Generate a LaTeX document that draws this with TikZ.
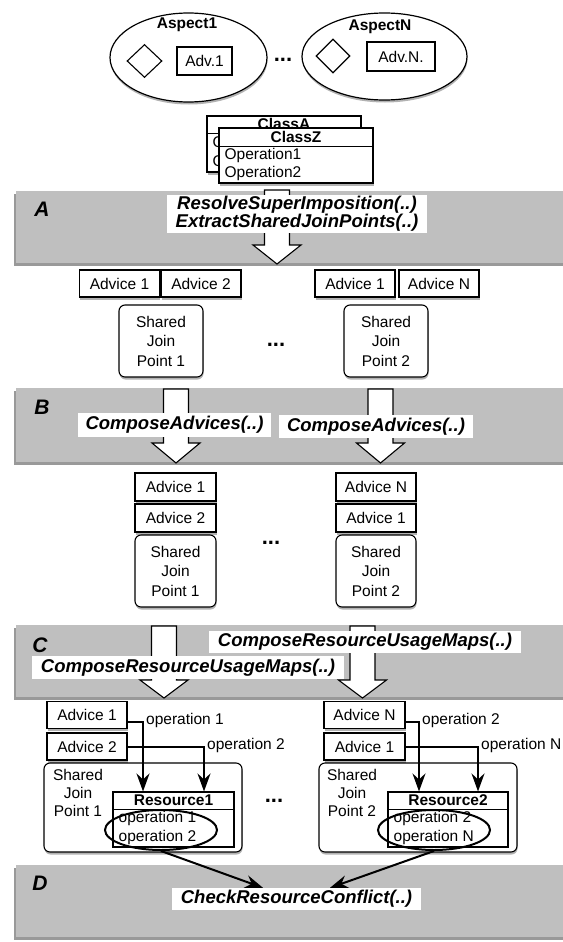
\documentclass[tikz,border=0pt]{standalone}
\usepackage{fontspec}
\setmainfont{Liberation Sans}
\usetikzlibrary{shapes.geometric,shadows,arrows.meta}
\newcommand\blockarr[4]{%
  \draw[barrow] ({#1-12.5},#2) -- ({#1+12.5},#2) -- ({#1+12.5},#3) -- ({#1+24},#3) -- (#1,#4) -- ({#1-24},#3) -- ({#1-12.5},#3) -- cycle;}
\begin{document}
\begin{tikzpicture}[x=1pt,y=-1pt,
  every node/.style={font=\fontsize{15.5}{19.5}\selectfont, inner sep=0pt},
  shdw/.style={drop shadow={shadow xshift=0.5pt, shadow yshift=-2.5pt, opacity=0.3, fill=black}},
  box/.style={draw, fill=white, line width=1.1pt, shdw},
  adv/.style={box, minimum width=80pt, minimum height=27pt},
  sjp/.style={box, rounded corners=6pt, align=center, minimum width=84pt, minimum height=72pt},
  band/.style={fill=gray!50, drop shadow={shadow xshift=-2pt, shadow yshift=-3pt, opacity=0.4, fill=black}},
  lbl/.style={fill=white, font=\fontsize{18.5}{17}\selectfont\bfseries\itshape, align=center},
  bandletter/.style={font=\fontsize{21}{21}\selectfont\bfseries\itshape},
  dots/.style={font=\fontsize{22}{22}\selectfont\bfseries},
  barrow/.style={draw, fill=white, line width=1.1pt},
  conn/.style={line width=2pt, -{Stealth[length=18pt,width=13pt,inset=6pt]}},
  opell/.style={draw, ellipse, line width=2pt, minimum width=112pt, minimum height=40pt},
  bold/.style={font=\fontsize{15.5}{19.5}\selectfont\bfseries},
  aspect/.style={draw, ellipse, fill=white, line width=1.2pt, shdw},
  dia/.style={draw, diamond, fill=white, line width=1.1pt},
  plainbox/.style={draw, fill=white, line width=1.1pt}
]
\useasboundingbox (0,0) rectangle (562,942);

% ---- aspects
\node[aspect, minimum width=157pt, minimum height=89pt] (asp1) at (188.5,57.5) {};
\node[bold] (asp1t) at (187,25) {Aspect1};
\node[dia, minimum width=35pt, minimum height=33pt] (dia1) at (144.5,61) {};
\node[plainbox, minimum width=55pt, minimum height=28pt] (adv1) at (204.5,61) {Adv.1};
\node[dots] (dtop) at (283,60) {...};
\node[aspect, minimum width=165pt, minimum height=87pt] (aspN) at (384.5,56.5) {};
\node[bold] (aspNt) at (380,27) {AspectN};
\node[dia, minimum width=34pt, minimum height=34pt] (diaN) at (333,56) {};
\node[plainbox, minimum width=68pt, minimum height=29pt] (advN) at (401,56.5) {Adv.N.};

% ---- classes
\node[box, minimum width=154pt, minimum height=56pt] (clA) at (284,144) {};
\node[bold] (clAt) at ([yshift=-9pt]clA.north) {ClassA};
\draw[line width=1.1pt] ([yshift=-18pt]clA.north west) -- ([yshift=-18pt]clA.north east);
\node[anchor=west] (clAo1) at ([xshift=6pt,yshift=-28pt]clA.north west) {Operation1};
\node[anchor=west] (clAo2) at ([xshift=6pt,yshift=-47pt]clA.north west) {Operation2};
\node[box, minimum width=154pt, minimum height=55pt] (clZ) at (296,155.5) {};
\node[bold] (clZt) at ([yshift=-9.5pt]clZ.north) {ClassZ};
\draw[line width=1.1pt] ([yshift=-19pt]clZ.north west) -- ([yshift=-19pt]clZ.north east);
\node[anchor=west] (clZo1) at ([xshift=6pt,yshift=-28pt]clZ.north west) {Operation1};
\node[anchor=west] (clZo2) at ([xshift=6pt,yshift=-46pt]clZ.north west) {Operation2};

% ---- band A
\path[band] (16,191) rectangle (575,263);
\blockarr{277}{190}{245}{264}
\node[lbl, minimum width=260pt, minimum height=38pt] (lA) at (297,214) {ResolveSuperImposition(..)\\ExtractSharedJoinPoints(..)};
\node[bandletter] (LA) at (42,209) {A};

\node[adv] (r1a) at (119.5,283.5) {Advice 1};
\node[adv] (r1b) at (201,283.5) {Advice 2};
\node[adv] (r1c) at (355,283.5) {Advice 1};
\node[adv] (r1d) at (439,283.5) {Advice N};
\node[sjp] (s1) at (161,341) {Shared\\Join\\Point 1};
\node[sjp] (s2) at (386,341) {Shared\\Join\\Point 2};
\node[dots] (d1) at (276,345) {...};

% ---- band B
\path[band] (16,388) rectangle (575,462);
\blockarr{176}{389}{443}{463}
\blockarr{380.5}{389}{443}{463}
\node[lbl, minimum width=193pt, minimum height=24pt] (lB1) at (174.5,425) {ComposeAdvices(..)};
\node[lbl, minimum width=194pt, minimum height=23pt] (lB2) at (376,426.5) {ComposeAdvices(..)};
\node[bandletter] (LB) at (42,407) {B};

\node[adv, minimum width=81pt, minimum height=28pt] (b1) at (175.5,487) {Advice 1};
\node[adv, minimum width=81pt, minimum height=28pt] (b2) at (175.5,518) {Advice 2};
\node[sjp, minimum width=81pt] (bs1) at (175.5,571) {Shared\\Join\\Point 1};
\node[adv, minimum width=80pt, minimum height=28pt] (b3) at (376,487) {Advice N};
\node[adv, minimum width=80pt, minimum height=28pt] (b4) at (376,518) {Advice 1};
\node[sjp, minimum width=80pt] (bs2) at (376,571) {Shared\\Join\\Point 2};
\node[dots] (d2) at (271,543) {...};

% ---- band C
\path[band] (16,625) rectangle (575,697);
\blockarr{164}{626}{680}{698}
\blockarr{362.5}{626}{680}{698}
\node[lbl, minimum width=312pt, minimum height=22pt] (lC2) at (365,642) {ComposeResourceUsageMaps(..)};
\node[lbl, minimum width=312pt, minimum height=23pt] (lC1) at (188,667.5) {ComposeResourceUsageMaps(..)};
\node[bandletter] (LC) at (40,645) {C};

\node[adv] (c1) at (87,715) {Advice 1};
\node[adv] (c2) at (87,746.5) {Advice 2};
\node[adv, minimum width=81pt] (c3) at (364.5,715) {Advice N};
\node[adv, minimum width=81pt] (c4) at (364.5,746.5) {Advice 1};

\node[box, rounded corners=6pt, minimum width=198pt, minimum height=89pt] (bj1) at (143,807.5) {};
\node[align=center, font=\fontsize{15.5}{18}\selectfont] (bj1t) at (78,793) {Shared\\Join\\Point 1};
\node[box, rounded corners=6pt, minimum width=198pt, minimum height=89pt] (bj2) at (418,807.5) {};
\node[align=center, font=\fontsize{15.5}{18}\selectfont] (bj2t) at (352,793) {Shared\\Join\\Point 2};

\node[plainbox, minimum width=121pt, minimum height=55pt] (res1) at (173.5,819.5) {};
\draw[line width=1.1pt] ([yshift=-18pt]res1.north west) -- ([yshift=-18pt]res1.north east);
\node[bold] (res1t) at ([yshift=-9pt]res1.north) {Resource1};
\node[anchor=west] (res1o1) at ([xshift=6pt,yshift=-27pt]res1.north west) {operation 1};
\node[anchor=west] (res1o2) at ([xshift=6pt,yshift=-46pt]res1.north west) {operation 2};
\node[plainbox, minimum width=120pt, minimum height=55pt] (res2) at (448,819.5) {};
\draw[line width=1.1pt] ([yshift=-18pt]res2.north west) -- ([yshift=-18pt]res2.north east);
\node[bold] (res2t) at ([yshift=-9pt]res2.north) {Resource2};
\node[anchor=west] (res2o1) at ([xshift=6pt,yshift=-27pt]res2.north west) {operation 2};
\node[anchor=west] (res2o2) at ([xshift=6pt,yshift=-46pt]res2.north west) {operation N};

\coordinate (k1) at (143,0);
\coordinate (k2) at (204,0);
\coordinate (k3) at (419,0);
\coordinate (k4) at (478,0);
\draw[conn] ([yshift=-7pt]c1.east) -| (res1.north -| k1);
\draw[conn] (c2.east) -| (res1.north -| k2);
\draw[conn] ([yshift=-7pt]c3.east) -| (res2.north -| k3);
\draw[conn] (c4.east) -| (res2.north -| k4);
\node[anchor=west] (op1) at (146,720) {operation 1};
\node[anchor=west] (op2) at (207,745) {operation 2};
\node[anchor=west] (op3) at (422,720) {operation 2};
\node[anchor=west] (op4) at (481,745) {operation N};

\node[opell] (e1) at (161,830) {};
\node[opell] (e2) at (434,830) {};
\node[dots] (d3) at (274,801) {...};

% ---- band D
\path[band] (16,865) rectangle (575,937);
\node[lbl, minimum width=249pt, minimum height=22pt] (chk) at (296.5,899) {CheckResourceConflict(..)};
\draw[conn] (e1.south) -- ([xshift=-33.5pt]chk.north);
\draw[conn] (e2.south) -- ([xshift=33.5pt]chk.north);
\node[bandletter] (LD) at (40,883) {D};
\end{tikzpicture}
\end{document}
